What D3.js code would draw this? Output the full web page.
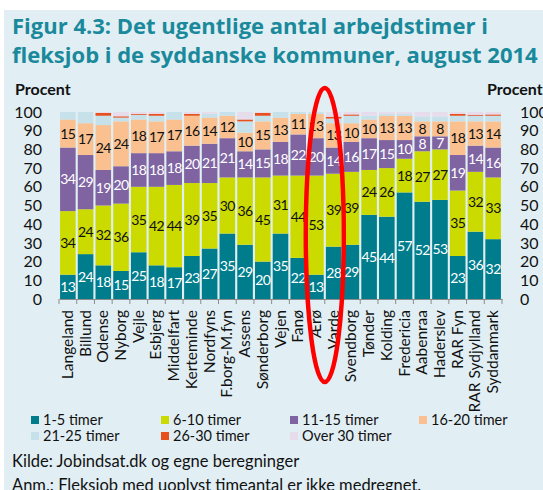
<!DOCTYPE html>
<html>
<head>
<meta charset="utf-8">
<script src="https://cdn.jsdelivr.net/npm/d3@7"></script>
<style>
  body { margin: 0; background: #fff; }
  text { font-family: Lato, "Noto Sans", sans-serif; }
</style>
</head>
<body>
<div id="chart"></div>
<script>
var width = 543;
var height = 490;

// kommuner
var categories = ["Langeland", "Billund", "Odense", "Nyborg", "Vejle", "Esbjerg", "Middelfart",
  "Kerteminde", "Nordfyns", "F.borg-M.fyn", "Assens", "Sønderborg", "Vejen", "Fanø", "Ærø",
  "Varde", "Svendborg", "Tønder", "Kolding", "Fredericia", "Aabenraa", "Haderslev", "RAR Fyn",
  "RAR Sydjylland", "Syddanmark"];

var seriesNames = ["1-5 timer", "6-10 timer", "11-15 timer", "16-20 timer", "21-25 timer", "26-30 timer", "Over 30 timer"];

var t1_5   = [13, 24, 18, 15, 25, 18, 17, 23, 27, 35, 29, 20, 35, 22, 13, 28, 29, 45, 44, 57, 52, 53, 23, 36, 32];
var t6_10  = [34, 24, 32, 36, 35, 42, 44, 39, 35, 30, 36, 45, 31, 44, 53, 39, 39, 24, 26, 18, 27, 27, 35, 32, 33];
var t11_15 = [34, 29, 19, 20, 18, 18, 18, 20, 21, 21, 14, 15, 18, 22, 20, 14, 16, 17, 15, 10, 8, 7, 19, 14, 16];
var t16_20 = [15, 17, 24, 24, 18, 17, 17, 16, 14, 12, 10, 15, 13, 11, 13, 13, 10, 10, 13, 13, 8, 8, 18, 13, 14];
var t21_25 = [4, 6, 5, 2, 2.5, 3, 4, 0, 2, 2, 6, 3, 3, 1, 1, 2.5, 4, 2, 1, 1, 2.5, 2.5, 3, 3, 3];
var t26_30 = [0, 0, 1.5, 0.7, 0.5, 1, 0, 1, 0, 0, 1, 1.5, 0, 0, 0, 1, 0.7, 0, 0, 0, 0, 0, 1, 0.5, 0.7];
var over30 = [0, 0, 0.5, 2.3, 1, 1, 0, 1, 1, 0, 4, 0.5, 0, 0, 0, 2.5, 1.3, 2, 1, 1, 2.5, 2.5, 1, 1.5, 1.3];

var yTicks = [0, 10, 20, 30, 40, 50, 60, 70, 80, 90, 100];

var colors = ["#007d8c", "#cbdb00", "#8064a2", "#fac08f", "#c6e1ea", "#e8501d", "#e7dcec"];
var labelColors = ["#fff", "#111", "#fff", "#111", null, null, null];

var allSeries = [t1_5, t6_10, t11_15, t16_20, t21_25, t26_30, over30];

// build rows for the stack
var rows = categories.map(function(c, i) {
  var r = { name: c };
  seriesNames.forEach(function(s, j) { r[s] = allSeries[j][i]; });
  return r;
});
var stacked = d3.stack().keys(seriesNames)(rows);

var svg = d3.select("#chart").append("svg")
  .attr("width", width)
  .attr("height", height);

// light blue panel
svg.append("rect")
  .attr("x", 4).attr("y", 10)
  .attr("width", width - 4).attr("height", height - 10)
  .attr("fill", "#e1eff4");

// title
svg.append("text").attr("x", 12).attr("y", 34)
  .attr("fill", "#19899b").style("font-weight", "bold").style("font-size", "22px")
  .style("font-family", "'Open Sans', sans-serif")
  .text("Figur 4.3: Det ugentlige antal arbejdstimer i");
svg.append("text").attr("x", 12).attr("y", 63)
  .attr("fill", "#19899b").style("font-weight", "bold").style("font-size", "22px")
  .style("font-family", "'Open Sans', sans-serif")
  .text("fleksjob i de syddanske kommuner, august 2014");

var xScale = d3.scaleBand()
  .domain(categories)
  .range([59, 502])
  .paddingInner(0.12)
  .paddingOuter(0.06);

var yScale = d3.scaleLinear()
  .domain([0, 100])
  .range([299, 112]);

// bars
var layers = svg.selectAll("g.layer")
  .data(stacked)
  .enter().append("g")
  .attr("class", "layer")
  .attr("fill", function(d, i) { return colors[i]; });

layers.selectAll("rect")
  .data(function(d) { return d; })
  .enter().append("rect")
  .attr("x", function(d) { return xScale(d.data.name); })
  .attr("width", xScale.bandwidth())
  .attr("y", function(d) { return yScale(d[1]); })
  .attr("height", function(d) { return yScale(d[0]) - yScale(d[1]); });

// value labels on the four big series
stacked.slice(0, 4).forEach(function(layer, i) {
  svg.append("g").selectAll("text")
    .data(layer)
    .enter().append("text")
    .attr("x", function(d) { return xScale(d.data.name) + xScale.bandwidth() / 2; })
    .attr("y", function(d) { return (yScale(d[0]) + yScale(d[1])) / 2; })
    .attr("dy", "0.36em")
    .attr("text-anchor", "middle")
    .attr("fill", labelColors[i])
    .style("font-size", "14px")
    .style("letter-spacing", "-0.6px")
    .text(function(d) { return Math.round(d[1] - d[0]); });
});

// x axis
var xAxis = d3.axisBottom(xScale).tickSize(0).tickFormat("");
var xg = svg.append("g").attr("transform", "translate(0,299)").call(xAxis);
xg.select(".domain").attr("stroke", "#8c8c8c");
var tickX = categories.map(function(c) { return xScale(c) - xScale.step() * xScale.paddingInner() / 2; });
tickX.push(xScale(categories[categories.length - 1]) + xScale.bandwidth() + xScale.step() * xScale.paddingInner() / 2);
svg.append("g").selectAll("line")
  .data(tickX)
  .enter().append("line")
  .attr("x1", function(d) { return d; }).attr("x2", function(d) { return d; })
  .attr("y1", 299).attr("y2", 304)
  .attr("stroke", "#8c8c8c");

svg.append("g").selectAll("text")
  .data(categories)
  .enter().append("text")
  .attr("transform", function(d) {
    return "translate(" + (xScale(d) + xScale.bandwidth() / 2 + 5) + ",310) rotate(-90)";
  })
  .attr("text-anchor", "end")
  .attr("fill", "#111")
  .style("font-size", "15.5px")
  .text(function(d) { return d; });

// y axes, left and right
var yLeft = d3.axisLeft(yScale).tickValues(yTicks).tickSize(0).tickPadding(0);
svg.append("g").attr("transform", "translate(42,0)").call(yLeft)
  .call(function(g) { g.select(".domain").remove(); })
  .selectAll("text").attr("fill", "#111").style("font-size", "16px")
  .style("font-family", "Lato, sans-serif");

var yRight = d3.axisRight(yScale).tickValues(yTicks).tickSize(0).tickPadding(0);
svg.append("g").attr("transform", "translate(520,0)").call(yRight)
  .call(function(g) { g.select(".domain").remove(); })
  .selectAll("text").attr("fill", "#111").style("font-size", "16px")
  .style("font-family", "Lato, sans-serif");

svg.append("text").attr("x", 15).attr("y", 95)
  .style("font-weight", "bold").style("font-size", "16px").attr("fill", "#111")
  .text("Procent");
svg.append("text").attr("x", 487).attr("y", 95)
  .style("font-weight", "bold").style("font-size", "16px").attr("fill", "#111")
  .text("Procent");

// legend
var legend = svg.append("g").selectAll("g")
  .data(seriesNames)
  .enter().append("g")
  .attr("transform", function(d, i) {
    return "translate(" + [31, 161, 290, 419][i % 4] + "," + (i < 4 ? 420 : 436) + ")";
  });
legend.append("rect")
  .attr("x", 0).attr("y", -4).attr("width", 8).attr("height", 8)
  .attr("fill", function(d, i) { return colors[i]; });
legend.append("text")
  .attr("x", 12).attr("y", 0).attr("dy", "0.35em")
  .attr("fill", "#111").style("font-size", "14.5px")
  .text(function(d) { return d; });

// source + note
svg.append("text").attr("x", 12).attr("y", 467)
  .attr("fill", "#111").style("font-size", "16.5px")
  .text("Kilde: Jobindsat.dk og egne beregninger");
svg.append("text").attr("x", 12).attr("y", 491)
  .attr("fill", "#111").style("font-size", "16.5px")
  .text("Anm.: Fleksjob med uoplyst timeantal er ikke medregnet.");

// red ring drawn around Ærø and Varde
var ringX = (xScale("Ærø") + xScale("Varde") + xScale.bandwidth()) / 2;
svg.append("ellipse")
  .attr("cx", ringX).attr("cy", 235)
  .attr("rx", 19).attr("ry", 147)
  .attr("fill", "none")
  .attr("stroke", "#ff0000")
  .attr("stroke-width", 4.5);
</script>
</body>
</html>
